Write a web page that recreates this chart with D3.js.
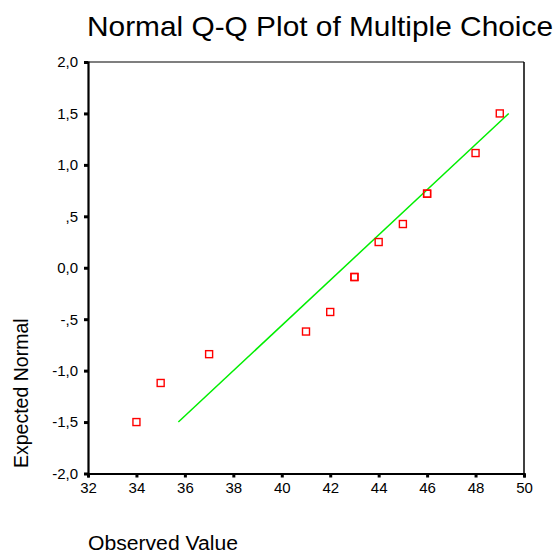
<!DOCTYPE html>
<html>
<head>
<meta charset="utf-8">
<script src="https://cdn.jsdelivr.net/npm/d3@7"></script>
<style>
  html, body { margin: 0; padding: 0; background: #fff; }
  svg { display: block; }
  text { font-family: Arial, "Liberation Sans", sans-serif; fill: #000; }
</style>
</head>
<body>
<svg id="chart" width="555" height="556"></svg>
<script>
// Data
const observed = [34, 35, 37, 41, 42, 43, 43, 44, 45, 46, 46, 48, 49];
const expectedNormal = [-1.50, -1.12, -0.84, -0.62, -0.43, -0.09, -0.09, 0.25, 0.425, 0.72, 0.72, 1.115, 1.50];
const lineX = [35.73, 49.37];
const lineY = [-1.5, 1.5];
const xTicks = [32, 34, 36, 38, 40, 42, 44, 46, 48, 50];
const yTicks = [-2.0, -1.5, -1.0, -0.5, 0.0, 0.5, 1.0, 1.5, 2.0];
const title = "Normal Q-Q Plot of Multiple Choice";
const xTitle = "Observed Value";
const yTitle = "Expected Normal";

const svg = d3.select("#chart");
const mLeft = 88, mRight = 524, mTop = 62, mBottom = 473.5;

const x = d3.scaleLinear().domain([32, 50]).range([mLeft, mRight]);
const y = d3.scaleLinear().domain([-2, 2]).range([mBottom, mTop]);

// y tick formatting like SPSS: "2,0", ",5", "-,5"
function fmtY(v) {
  let s = Math.abs(v).toFixed(1).replace(".", ",");
  if (Math.abs(v) < 1 && v !== 0) s = s.replace(/^0/, "");
  return (v < 0 ? "-" : "") + s;
}

// frame (top & right)
svg.append("line").attr("x1", mLeft).attr("x2", mRight).attr("y1", mTop).attr("y2", mTop)
  .attr("stroke", "#000").attr("stroke-width", 1.2);
svg.append("line").attr("x1", mRight).attr("x2", mRight).attr("y1", mTop).attr("y2", mBottom)
  .attr("stroke", "#000").attr("stroke-width", 1.5);

// Y axis
const yAxis = svg.append("g").attr("transform", `translate(${mLeft},0)`)
  .call(d3.axisLeft(y).tickValues(yTicks).tickFormat(fmtY).tickSize(4).tickPadding(6));
yAxis.select(".domain").attr("stroke", "#000").attr("stroke-width", 2.2);
yAxis.selectAll(".tick line").attr("stroke", "#000").attr("stroke-width", 3);
yAxis.selectAll(".tick text").attr("font-size", 15).attr("font-family", "Arial, 'Liberation Sans', sans-serif");

// X axis
const xAxis = svg.append("g").attr("transform", `translate(0,${mBottom})`)
  .call(d3.axisBottom(x).tickValues(xTicks).tickFormat(d3.format("d")).tickSize(4).tickPadding(5));
xAxis.select(".domain").attr("stroke", "#000").attr("stroke-width", 2.2);
xAxis.selectAll(".tick line").attr("stroke", "#000").attr("stroke-width", 3);
xAxis.selectAll(".tick text").attr("font-size", 15).attr("font-family", "Arial, 'Liberation Sans', sans-serif");

// reference line
svg.append("line")
  .attr("x1", x(lineX[0])).attr("y1", y(lineY[0]))
  .attr("x2", x(lineX[1])).attr("y2", y(lineY[1]))
  .attr("stroke", "#00ee00").attr("stroke-width", 1.5);

// points
const pts = observed.map((v, i) => ({ x: v, y: expectedNormal[i] }));
svg.append("g").selectAll("rect").data(pts).join("rect")
  .attr("x", d => x(d.x) - 3.5).attr("y", d => y(d.y) - 3.5)
  .attr("width", 7).attr("height", 7)
  .attr("fill", "none").attr("stroke", "#ff0000").attr("stroke-width", 1.4);

// titles
svg.append("text").attr("x", 87).attr("y", 36).attr("font-size", 28.5)
  .attr("textLength", 466).attr("lengthAdjust", "spacingAndGlyphs").text(title);
svg.append("text").attr("x", 88).attr("y", 550).attr("font-size", 19.5)
  .attr("textLength", 150).attr("lengthAdjust", "spacingAndGlyphs").text(xTitle);
svg.append("text").attr("transform", "translate(28,468) rotate(-90)").attr("font-size", 19.5).text(yTitle);
</script>
</body>
</html>
